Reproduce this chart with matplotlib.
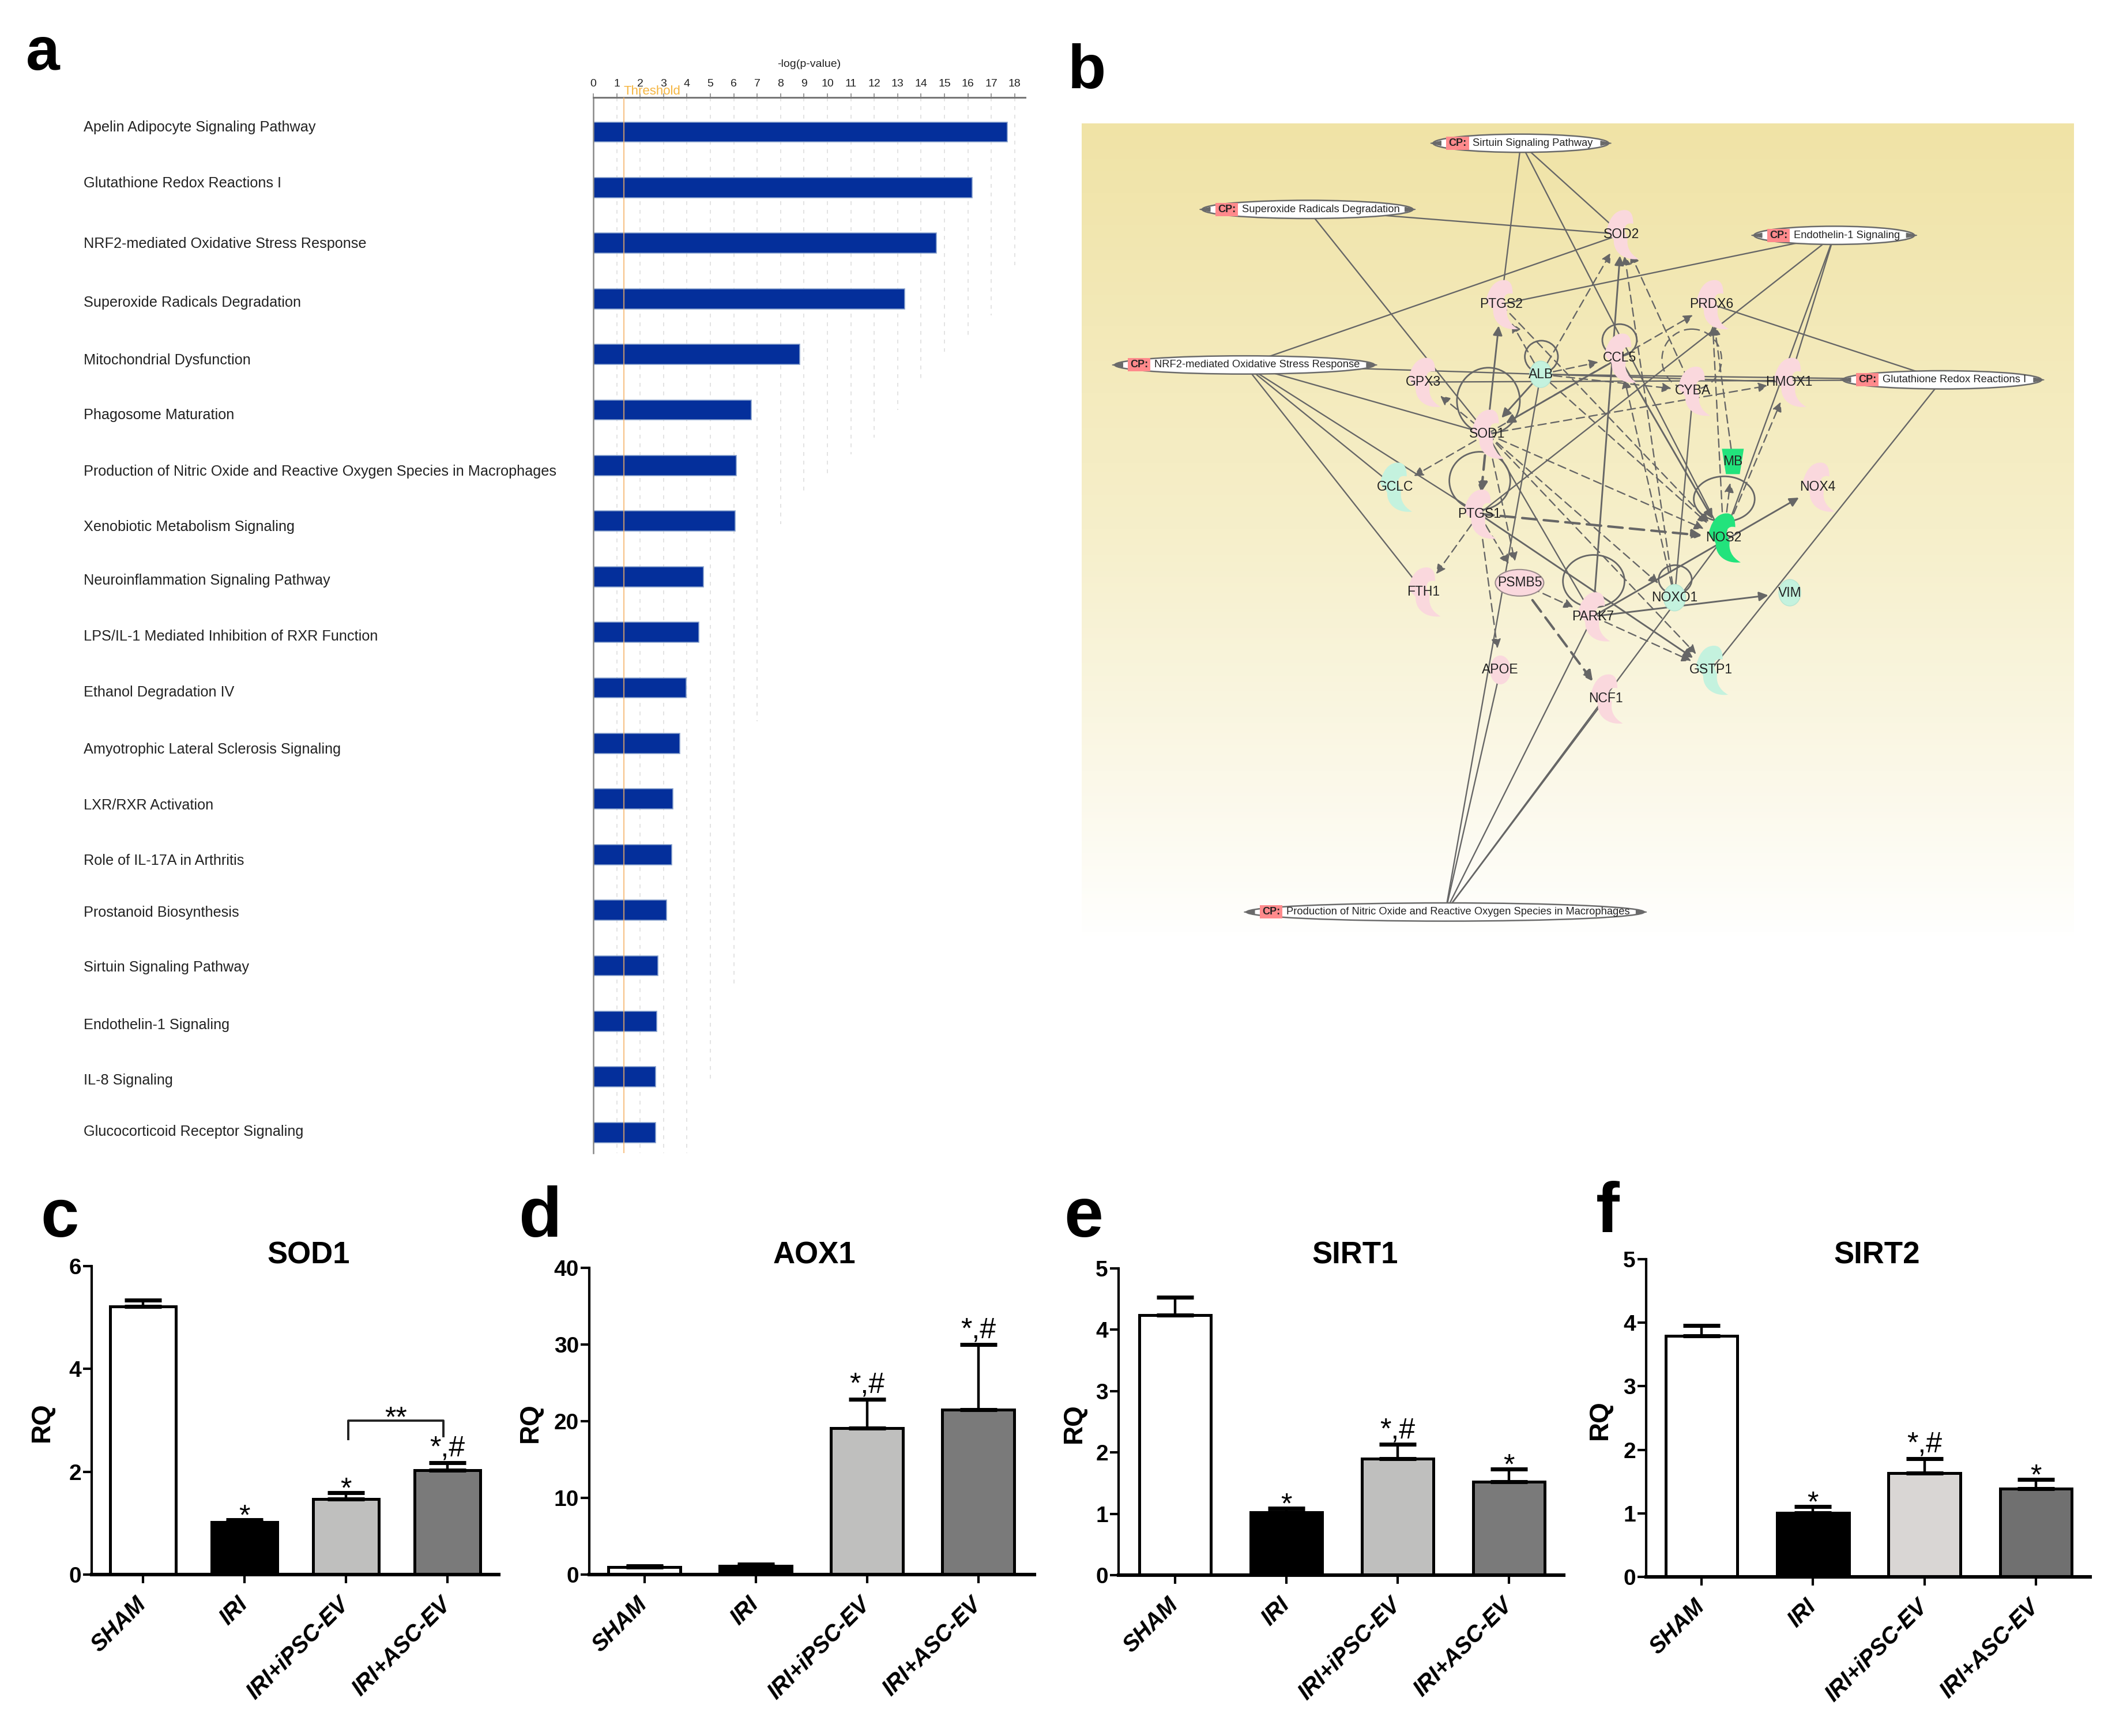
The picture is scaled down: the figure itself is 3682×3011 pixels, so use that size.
import matplotlib
matplotlib.use("Agg")
import matplotlib.pyplot as plt
import numpy as np
from matplotlib.colors import LinearSegmentedColormap
from matplotlib.patches import Ellipse, FancyArrowPatch, PathPatch, Rectangle
from matplotlib.path import Path
from matplotlib.transforms import ScaledTranslation

plt.rcParams['font.family'] = ['Liberation Sans', 'DejaVu Sans']

W, H = 3682, 3011
DPI = 100

# ---------- panel a data ----------
pathways = ["Apelin Adipocyte Signaling Pathway", "Glutathione Redox Reactions I",
            "NRF2-mediated Oxidative Stress Response", "Superoxide Radicals Degradation",
            "Mitochondrial Dysfunction", "Phagosome Maturation",
            "Production of Nitric Oxide and Reactive Oxygen Species in Macrophages",
            "Xenobiotic Metabolism Signaling", "Neuroinflammation Signaling Pathway",
            "LPS/IL-1 Mediated Inhibition of RXR Function", "Ethanol Degradation IV",
            "Amyotrophic Lateral Sclerosis Signaling", "LXR/RXR Activation",
            "Role of IL-17A in Arthritis", "Prostanoid Biosynthesis",
            "Sirtuin Signaling Pathway", "Endothelin-1 Signaling", "IL-8 Signaling",
            "Glucocorticoid Receptor Signaling"]
log_p = [17.68, 16.18, 14.66, 13.29, 8.81, 6.75, 6.10, 6.05, 4.71, 4.50, 3.96, 3.70,
         3.40, 3.36, 3.12, 2.76, 2.70, 2.65, 2.65]
label_shift_px = [-8, -7, 1, 7, 10, 9, 11, 10, 7, 7, 8, 11, 11, 11, 4, 3, 7, 6, -1]
grid_ticks = list(range(19))
grid_end = [18.4, 18.4, 18.4, 18.4, 18.4, 17.1, 15.35, 10.6, 7.05, 6.5, 6.2, 5.8, 5.5,
            5.0, 4.5, 3.95, 3.65, 3.3, 2.4]
threshold = 1.3

# ---------- panel b data ----------
cp_names = ["Sirtuin Signaling Pathway", "Superoxide Radicals Degradation", "Endothelin-1 Signaling",
            "NRF2-mediated Oxidative Stress Response", "Glutathione Redox Reactions I",
            "Production of Nitric Oxide and Reactive Oxygen Species in Macrophages"]
cp_keys = ["Sirtuin", "Superoxide", "Endothelin", "NRF2", "Glutathione", "Production"]
cp_x = [687, 365, 1160, 270, 1323, 573]
cp_y = [103, 223, 270, 505, 532, 1497]
cp_w = [265, 318, 242, 392, 300, 600]

gene_names = ["SOD2", "PTGS2", "PRDX6", "CCL5", "ALB", "GPX3", "CYBA", "HMOX1", "SOD1", "GCLC", "MB",
              "NOX4", "PTGS1", "NOS2", "FTH1", "PSMB5", "NOXO1", "VIM", "PARK7", "APOE", "GSTP1", "NCF1"]
gene_x = [839, 657, 975, 836, 717, 540, 947, 1092, 636, 497, 1007, 1135, 624, 993, 540, 685, 919, 1093, 796, 656, 974, 815]
gene_y = [268, 395, 395, 492, 522, 536, 552, 536, 630, 726, 680, 726, 775, 818, 916, 900, 927, 918, 961, 1058, 1058, 1110]
gene_kind = ["c", "c", "c", "c", "o", "c", "c", "c", "c", "c", "t", "c", "c", "c", "c", "e", "o", "o", "c", "r", "c", "c"]
gene_col = ["p", "p", "p", "p", "g", "p", "p", "p", "p", "g", "G", "p", "p", "G", "p", "p", "g", "g", "p", "p", "g", "p"]

edges_plain = [("Sirtuin", "PTGS2"), ("Sirtuin", "SOD2"), ("Sirtuin", "NOS2"), ("Superoxide", "SOD2"),
               ("Superoxide", "SOD1"), ("Endothelin", "PTGS2"), ("Endothelin", "PTGS1"), ("Endothelin", "HMOX1"),
               ("Endothelin", "NOS2"), ("NRF2", "SOD2"), ("NRF2", "HMOX1"), ("NRF2", "SOD1"), ("NRF2", "GCLC"),
               ("NRF2", "PTGS1"), ("NRF2", "FTH1"), ("Glutathione", "PRDX6"), ("Glutathione", "GPX3"),
               ("Glutathione", "ALB"), ("Glutathione", "GSTP1"), ("Production", "APOE"), ("Production", "ALB"),
               ("Production", "PARK7"), ("Production", "NCF1"), ("Production", "NOS2"), ("NOXO1", "CYBA"),
               ("SOD1", "PARK7")]
edges_arrow = [("SOD1", "PTGS2"), ("PARK7", "SOD2"), ("PARK7", "VIM"), ("PARK7", "NOX4"), ("PTGS1", "GSTP1"),
               ("ALB", "SOD1"), ("CCL5", "SOD1"), ("CCL5", "NOS2")]
edges_dash = [("ALB", "SOD2"), ("ALB", "PTGS2"), ("ALB", "CCL5"), ("ALB", "CYBA"), ("ALB", "NOS2"),
              ("SOD1", "HMOX1"), ("SOD1", "GPX3"), ("SOD1", "GCLC"), ("SOD1", "NOS2"), ("SOD1", "PRDX6"),
              ("PTGS1", "FTH1"), ("PTGS1", "PSMB5"), ("PTGS1", "APOE"), ("SOD1", "PSMB5"), ("PSMB5", "PARK7"),
              ("PARK7", "GSTP1"), ("SOD1", "GSTP1"), ("SOD1", "NOXO1"), ("NOS2", "MB"), ("NOS2", "PRDX6"),
              ("MB", "PRDX6"), ("NOS2", "HMOX1"), ("NOXO1", "SOD2"), ("CYBA", "SOD2"), ("PTGS2", "NOS2"),
              ("NOXO1", "CCL5")]
edges_thick = [("SOD1", "PTGS1"), ("PTGS1", "NOS2"), ("PSMB5", "NCF1")]

loop_x = [638, 625, 718, 836, 994, 797, 920]
loop_y = [570, 715, 490, 460, 748, 897, 894]
loop_w = [95, 92, 50, 52, 92, 93, 50]
loop_h = [120, 105, 58, 58, 82, 95, 52]
dashed_loop_x = [945]
dashed_loop_y = [495]
dashed_loop_w = [90]
dashed_loop_h = [110]

# ---------- panels c-f data ----------
groups = ["SHAM", "IRI", "IRI+iPSC-EV", "IRI+ASC-EV"]
sod1_mean = [5.22, 1.02, 1.47, 2.03]
sod1_err = [0.12, 0.05, 0.12, 0.15]
aox1_mean = [0.95, 1.10, 19.1, 21.5]
aox1_err = [0.20, 0.22, 3.75, 8.5]
sirt1_mean = [4.24, 1.02, 1.90, 1.52]
sirt1_err = [0.29, 0.07, 0.23, 0.21]
sirt2_mean = [3.79, 1.01, 1.63, 1.39]
sirt2_err = [0.17, 0.10, 0.23, 0.14]
sod1_marks = ["", "*", "*", "*,#"]
aox1_marks = ["", "", "*,#", "*,#"]
sirt1_marks = ["", "*", "*,#", "*"]
sirt2_marks = ["", "*", "*,#", "*"]
c_yticks = [0, 2, 4, 6]
d_yticks = [0, 10, 20, 30, 40]
e_yticks = [0, 1, 2, 3, 4, 5]
f_yticks = [0, 1, 2, 3, 4, 5]
bars_cde = ["white", "black", "#bfbfbe", "#7a7a7a"]
bars_f = ["white", "black", "#d9d6d4", "#707070"]

fig = plt.figure(figsize=(W / DPI, H / DPI), dpi=DPI, facecolor="white")


def axes_px(left, top, right, bottom, **kw):
    return fig.add_axes([left / W, 1 - bottom / H, (right - left) / W, (bottom - top) / H], **kw)


def fig_text(x, y, s, **kw):
    fig.text(x / W, 1 - y / H, s, **kw)


# ---------- panel a ----------
ax = axes_px(1029, 169, 1778, 2000)
ypos = np.arange(len(pathways))
ax.set_xlim(0, (1778 - 1029) / 40.6)
ax.set_ylim((2000 - 229) / 96.4, (169 - 229) / 96.4)
for t, e in zip(grid_ticks, grid_end):
    ax.plot([t, t], [-0.62, e], color="#dedede", lw=1.2, ls=(0, (4, 5)), zorder=0)
ax.barh(ypos, log_p, height=0.36, color="#042f9b", edgecolor="#86a0cc", lw=1.2, zorder=2)
ax.axvline(threshold, color="#f5b266", lw=1.6, alpha=0.75, zorder=3)
ax.xaxis.tick_top()
ax.set_xticks(grid_ticks)
ax.tick_params(axis="x", length=5, width=1.2, color="#888888", labelsize=14, pad=6, labelcolor="#222222")
ax.set_yticks([])
for k in ("right", "bottom"):
    ax.spines[k].set_visible(False)
ax.spines["top"].set_color("#777777")
ax.spines["top"].set_linewidth(2.2)
ax.spines["left"].set_color("#888888")
ax.spines["left"].set_linewidth(1.8)
for name, i, s in zip(pathways, ypos, label_shift_px):
    fig_text(145, 229 + i * 96.4 + s, name, fontsize=18.2, color="#222222", va="center", ha="left")
fig_text(1403, 112, "-log(p-value)", fontsize=14, color="#222222", ha="center", va="center")
fig_text(1131, 158, "Threshold", fontsize=16, color="#f5b540", ha="center", va="center")

# ---------- panel b ----------
bx0, bx1, by0, by1 = 24, 1522, 67, 1540
axb = axes_px(1876, 214, 3597, 1623)
SX = (3597 - 1876) / (bx1 - bx0)
SY = (1623 - 214) / (by1 - by0)
cmap = LinearSegmentedColormap.from_list("bg", [(0, "#f0e3a6"), (0.5, "#f6efca"), (0.8, "#fbf8e8"), (1, "#fffffe")])
axb.imshow(np.linspace(0, 1, 256).reshape(-1, 1), cmap=cmap, aspect="auto", extent=(bx0, bx1, by1, by0), zorder=0)
axb.set_xlim(bx0, bx1)
axb.set_ylim(by1, by0)
axb.axis("off")

pos = {k: (x, y) for k, x, y in zip(cp_keys, cp_x, cp_y)}
pos.update({k: (x, y) for k, x, y in zip(gene_names, gene_x, gene_y)})
EDGE = "#666666"


def draw_edge(a, b, style):
    props = dict(color=EDGE, zorder=2, shrinkA=0)
    if style == "plain":
        props.update(arrowstyle="-", lw=1.7, shrinkB=0)
    elif style == "arrow":
        props.update(arrowstyle="-|>", mutation_scale=24, lw=2.1, shrinkB=27)
    elif style == "dash":
        props.update(arrowstyle="-|>", mutation_scale=24, lw=1.7, ls=(0, (6, 3.5)), shrinkB=27)
    else:
        props.update(arrowstyle="-|>", mutation_scale=26, lw=3.0, ls=(0, (6, 3)), shrinkB=27)
    axb.add_patch(FancyArrowPatch(pos[a], pos[b], **props))


for e in edges_plain:
    draw_edge(*e, "plain")
for e in edges_arrow:
    draw_edge(*e, "arrow")
for e in edges_dash:
    draw_edge(*e, "dash")
for e in edges_thick:
    draw_edge(*e, "thick")
for x, y, w, h in zip(loop_x, loop_y, loop_w, loop_h):
    axb.add_patch(Ellipse((x, y), w, h, fc="none", ec=EDGE, lw=2.0, zorder=2))
for x, y, w, h in zip(dashed_loop_x, dashed_loop_y, dashed_loop_w, dashed_loop_h):
    axb.add_patch(Ellipse((x, y), w, h, fc="none", ec=EDGE, lw=1.7, ls=(0, (6, 3.5)), zorder=2))

NODE_COL = {"p": "#fad8dd", "g": "#c4f2de", "G": "#22e37c"}
C = Path.CURVE4
crescent_v = [(-19, -8), (-14, -36), (-4, -42), (4, -42), (14, -42), (15, -28), (15, -18), (5, -22), (0, -10),
              (8, 6), (6, 20), (10, 34), (22, 43), (2, 46), (-10, 30), (-10, 12), (-10, 4), (-18, 4), (-19, -8)]
crescent_c = [Path.MOVETO] + [C] * 18
trap_v = [(-19, -22), (19, -22), (12, 22), (-12, 22), (-19, -22)]
trap_c = [Path.MOVETO, Path.LINETO, Path.LINETO, Path.LINETO, Path.CLOSEPOLY]
for name, x, y, kind, col in zip(gene_names, gene_x, gene_y, gene_kind, gene_col):
    fc = NODE_COL[col]
    if kind == "c":
        v = [(x + 1.35 * dx / SX, y + dy / SY) for dx, dy in crescent_v]
        axb.add_patch(PathPatch(Path(v, crescent_c), fc=fc, ec="none", zorder=3))
    elif kind == "o":
        axb.add_patch(Ellipse((x, y), 38 / SX, 46 / SY, fc=fc, ec="#b7e6d2", lw=1, zorder=3))
    elif kind == "t":
        v = [(x + dx / SX, y + dy / SY) for dx, dy in trap_v]
        axb.add_patch(PathPatch(Path(v, trap_c), fc=fc, ec="none", zorder=3))
    elif kind == "e":
        axb.add_patch(Ellipse((x, y), 84 / SX, 46 / SY, fc=fc, ec="#9a8a8c", lw=1.5, zorder=3))
    else:
        axb.add_patch(Ellipse((x, y), 36 / SX, 50 / SY, fc=fc, ec="none", zorder=3))
    axb.text(x, y, name, fontsize=16.5, color="#222222", ha="center", va="center", zorder=6)

for name, x, y, w in zip(cp_names, cp_x, cp_y, cp_w):
    axb.add_patch(Ellipse((x, y), w, 33, fc="white", ec="#6a6a6a", lw=1.8, zorder=4))
    for side, sgn in ((x - w / 2, 1), (x + w / 2, -1)):
        axb.fill([side - sgn * 4, side + sgn * 12, side + sgn * 12], [y, y - 4, y + 4], color="#6a6a6a", zorder=4)
    left = x - w / 2
    axb.add_patch(Rectangle((left + 20, y - 12), 34, 24, fc="#ff8a8c", ec="none", zorder=5))
    axb.text(left + 37, y, "CP:", fontsize=13, fontweight="bold", color="#222222", ha="center", va="center", zorder=6)
    axb.text(left + 60, y, name, fontsize=13.2, color="#222222", ha="left", va="center", zorder=6)


# ---------- panels c-f ----------
def bar_panel(box, first, step, means, errs, cols, ymax, yticks, title, title_x, marks, rq_x):
    left, top, right, bottom = box
    a = axes_px(left, top, right, bottom)
    a.patch.set_alpha(0)
    x = np.arange(len(groups))
    a.set_xlim((left - first) / step, (right - first) / step)
    a.set_ylim(0, ymax)
    a.bar(x, means, width=0.645, color=cols, edgecolor="black", lw=3.6, zorder=2)
    a.errorbar(x, means, yerr=[np.zeros(4), errs], fmt="none", ecolor="black", elinewidth=3.2,
               capsize=23, capthick=5, zorder=3)
    for k in ("top", "right"):
        a.spines[k].set_visible(False)
    a.spines["left"].set_linewidth(3)
    a.spines["bottom"].set_linewidth(4.4)
    a.set_yticks(yticks)
    a.set_xticks(x)
    a.set_xticklabels(groups, rotation=45, ha="right", va="center", rotation_mode="anchor",
                      fontsize=28.5, fontweight="bold", fontstyle="italic")
    a.tick_params(axis="x", length=11, width=3, pad=22)
    a.tick_params(axis="y", length=11, width=3, pad=2)
    shift = ScaledTranslation(-1 / DPI, 0, fig.dpi_scale_trans)
    for lab in a.get_xticklabels():
        lab.set_transform(lab.get_transform() + shift)
    for lab in a.get_yticklabels():
        lab.set_fontsize(28)
        lab.set_fontweight("bold")
    for i, m in enumerate(marks):
        if m:
            off = 8 if "#" in m else -6
            a.annotate(m, (i, means[i] + errs[i]), xytext=(0, off), textcoords="offset points",
                       ha="center", va="baseline", fontsize=36, zorder=5)
    fig_text(title_x, 2177, title, fontsize=38, fontweight="bold", ha="center", va="center")
    fig_text(rq_x, (top + bottom) / 2 + 3, "RQ", fontsize=33, fontweight="bold", rotation=90, ha="center", va="center")
    return a


axc = bar_panel((159, 2196, 865, 2731), 248, 176, sod1_mean, sod1_err, bars_cde, 6, c_yticks, "SOD1", 535, sod1_marks, 73)
axd = bar_panel((1022, 2199, 1794, 2731), 1117.5, 193, aox1_mean, aox1_err, bars_cde, 40, d_yticks, "AOX1", 1412, aox1_marks, 920)
axe = bar_panel((1940, 2200, 2712, 2732), 2038, 193, sirt1_mean, sirt1_err, bars_cde, 5, e_yticks, "SIRT1", 2350, sirt1_marks, 1863)
axf = bar_panel((2855, 2184, 3625, 2735), 2951, 193.3, sirt2_mean, sirt2_err, bars_f, 5, f_yticks, "SIRT2", 3255, sirt2_marks, 2775)

axc.plot([2.02, 2.02, 2.96, 2.96], [2.63, 3.0, 3.0, 2.69], color="#222222", lw=2.8, zorder=4, clip_on=False)
axc.annotate("**", (2.49, 3.0), xytext=(0, -8), textcoords="offset points", ha="center", va="baseline", fontsize=36)

# ---------- panel letters ----------
for s, x, y, size in [("a", 45, 121, 76), ("b", 1852, 153, 78), ("c", 70, 2145, 86),
                      ("d", 900, 2145, 88), ("e", 1845, 2145, 88), ("f", 2768, 2137, 88)]:
    fig_text(x, y, s, fontsize=size, fontweight="bold", ha="left", va="baseline")

fig.savefig("out.png", dpi=DPI)
